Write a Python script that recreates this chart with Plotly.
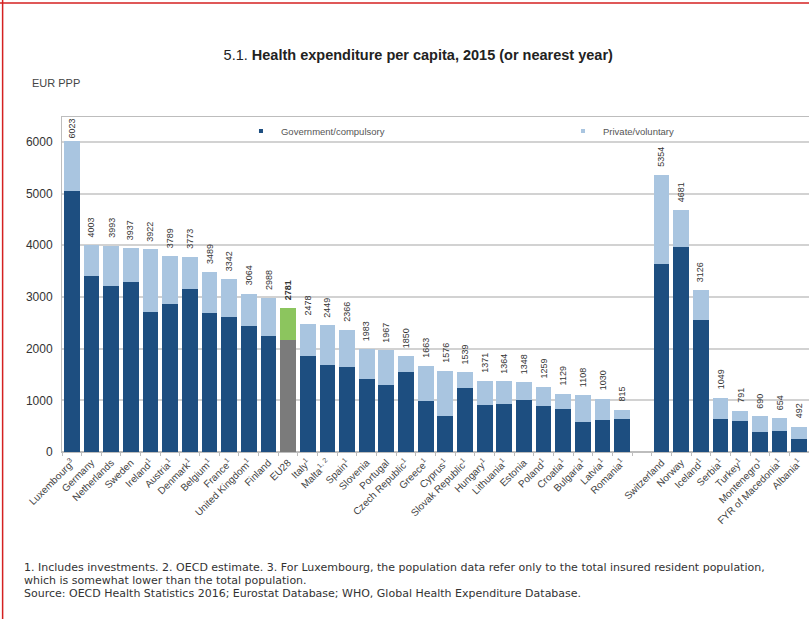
import plotly.graph_objects as go

countries = ["Luxembourg<sup>3</sup>", "Germany", "Netherlands", "Sweden", "Ireland<sup>1</sup>",
             "Austria<sup>1</sup>", "Denmark<sup>1</sup>", "Belgium<sup>1</sup>", "France<sup>1</sup>",
             "United Kingdom<sup>1</sup>", "Finland", "EU28", "Italy<sup>1</sup>", "Malta<sup>1, 2</sup>",
             "Spain<sup>1</sup>", "Slovenia", "Portugal", "Czech Republic<sup>1</sup>", "Greece<sup>1</sup>",
             "Cyprus<sup>1</sup>", "Slovak Republic<sup>1</sup>", "Hungary<sup>1</sup>", "Lithuania<sup>1</sup>",
             "Estonia", "Poland<sup>1</sup>", "Croatia<sup>1</sup>", "Bulgaria<sup>1</sup>", "Latvia<sup>1</sup>",
             "Romania<sup>1</sup>",
             "Switzerland", "Norway", "Iceland<sup>1</sup>", "Serbia<sup>1</sup>", "Turkey<sup>1</sup>",
             "Montenegro<sup>1</sup>", "FYR of Macedonia<sup>1</sup>", "Albania<sup>1</sup>"]
# slot positions (a blank slot separates EU members from other countries)
positions = list(range(0, 29)) + list(range(30, 38))

totals = [6023, 4003, 3993, 3937, 3922, 3789, 3773, 3489, 3342, 3064, 2988, 2781, 2478, 2449,
          2366, 1983, 1967, 1850, 1663, 1576, 1539, 1371, 1364, 1348, 1259, 1129, 1108, 1030, 815,
          5354, 4681, 3126, 1049, 791, 690, 654, 492]
government = [5040, 3395, 3210, 3280, 2705, 2865, 3150, 2685, 2620, 2430, 2245, 2160, 1860, 1690,
              1640, 1420, 1290, 1550, 995, 700, 1240, 905, 925, 1000, 885, 826, 582, 613, 640,
              3635, 3975, 2545, 645, 600, 388, 405, 247]
private = [t - g for t, g in zip(totals, government)]

y_ticks = [0, 1000, 2000, 3000, 4000, 5000, 6000]

title_text = "5.1. <b>Health expenditure per capita, 2015 (or nearest year)</b>"
unit_text = "EUR PPP"
footnotes = [
    "1. Includes investments. 2. OECD estimate. 3. For Luxembourg, the population data refer only to the total insured resident population,",
    "which is somewhat lower than the total population.",
    "Source: OECD Health Statistics 2016; Eurostat Database; WHO, Global Health Expenditure Database.",
]

eu_name = "EU28"
DARK = "#1d4e80"
LIGHT = "#a9c5e0"
GRAY = "#7b7b7b"
GREEN = "#8cc55e"
FONT = "Liberation Sans"

gov_colors = [GRAY if c == eu_name else DARK for c in countries]
priv_colors = [GREEN if c == eu_name else LIGHT for c in countries]

fig = go.Figure()
fig.add_trace(go.Bar(x=positions, y=government, marker=dict(color=gov_colors, line=dict(width=0)),
                     showlegend=False, width=0.8))
fig.add_trace(go.Bar(x=positions, y=private, marker=dict(color=priv_colors, line=dict(width=0)),
                     showlegend=False, width=0.8))
# legend entries with small square symbols
fig.add_trace(go.Scatter(x=[None], y=[None], mode="markers", name="Government/compulsory",
                         marker=dict(symbol="square", size=4, color=DARK), legend="legend"))
fig.add_trace(go.Scatter(x=[None], y=[None], mode="markers", name="Private/voluntary",
                         marker=dict(symbol="square", size=4, color=LIGHT), legend="legend2"))

annotations = []
for p, t, c in zip(positions, totals, countries):
    txt = f"<b>{t}</b>" if c == eu_name else str(t)
    annotations.append(dict(x=p, y=t, xref="x", yref="y", text=txt, textangle=-90,
                            showarrow=False, yanchor="bottom", xanchor="center",
                            yshift=0 if t > 5800 else 6,
                            font=dict(size=9, color="#333333", family=FONT)))

annotations.append(dict(x=-0.043, y=1.10, xref="paper", yref="paper", text=unit_text,
                        showarrow=False, xanchor="left", yanchor="middle",
                        font=dict(size=11, color="#444444", family=FONT)))
for i, line in enumerate(footnotes):
    annotations.append(dict(x=-0.0535, y=-0.346 - i * 13 / 335, xref="paper", yref="paper",
                            text=line, showarrow=False, xanchor="left", yanchor="middle",
                            align="left",
                            font=dict(size=11, color="#333333", family="DejaVu Sans")))

leg_common = dict(orientation="h", y=0.958, xanchor="left", yanchor="middle",
                  bgcolor="rgba(0,0,0,0)", font=dict(size=9.5, color="#555555", family=FONT),
                  itemwidth=30)

fig.update_layout(
    width=809, height=619,
    margin=dict(l=62, r=0, t=117, b=167),
    paper_bgcolor="white", plot_bgcolor="white",
    barmode="stack", bargap=0.18,
    font=dict(family=FONT, color="#333333"),
    title=dict(text=title_text, x=0.517, xanchor="center", y=0.911, yanchor="middle",
               font=dict(size=14.5, color="#222222", family=FONT)),
    legend=dict(x=0.2396, **leg_common),
    legend2=dict(x=0.6707, **leg_common),
    annotations=annotations,
    shapes=[
        dict(type="line", xref="paper", yref="paper", x0=-0.0795, x1=-0.0795, y0=-2, y1=2,
             line=dict(color="#d42020", width=1.5)),
        dict(type="line", xref="paper", yref="paper", x0=-0.2, x1=1.2, y0=1.34, y1=1.34,
             line=dict(color="#d42020", width=1.5)),
    ],
)
fig.update_xaxes(range=[-0.5, 37.5], tickmode="array", tickvals=positions, ticktext=countries,
                 tickangle=-45, tickfont=dict(size=10, color="#444444"), ticks="",
                 showgrid=False, showline=True, linecolor="#bdbdbd", linewidth=1, mirror=True,
                 minor=dict(ticks="outside", ticklen=3, tick0=0.5, dtick=1, tickcolor="#bdbdbd",
                            showgrid=False),
                 zeroline=False)
fig.update_yaxes(range=[0, 6480], tickmode="array", tickvals=y_ticks,
                 tickfont=dict(size=12, color="#333333"), showgrid=True, gridcolor="#d2d2d2",
                 gridwidth=1.5, showline=True, linecolor="#bdbdbd", linewidth=1, mirror=True,
                 zeroline=True, zerolinecolor="#bdbdbd", ticks="", ticklabelstandoff=6)

fig.write_html("out.html")
